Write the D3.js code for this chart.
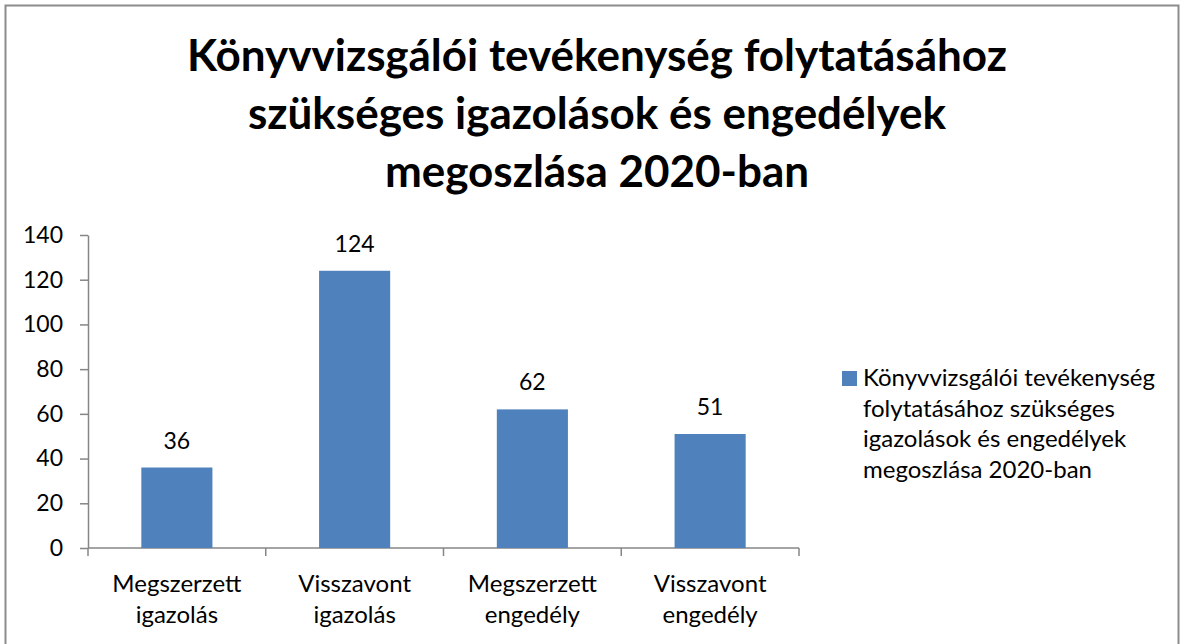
<!DOCTYPE html>
<html>
<head>
<meta charset="utf-8">
<script src="https://cdn.jsdelivr.net/npm/d3@7"></script>
<style>
  body { margin: 0; background: #fff; }
  text { font-family: Lato, "Open Sans", sans-serif; fill: #000; }
</style>
</head>
<body>
<div id="container"></div>
<script>
/* CONSTANTS AND GLOBALS */
const width = 1184,
  height = 644,
  margin = { top: 235, bottom: 96, left: 88, right: 385 }

/* DATA */
const categories = [
  ["Megszerzett", "igazolás"],
  ["Visszavont", "igazolás"],
  ["Megszerzett", "engedély"],
  ["Visszavont", "engedély"]
]
const values = [36, 124, 62, 51]
const yTicks = [0, 20, 40, 60, 80, 100, 120, 140]
const titleLines = [
  "Könyvvizsgálói tevékenység folytatásához",
  "szükséges igazolások és engedélyek",
  "megoszlása 2020-ban"
]
const seriesName = [
  "Könyvvizsgálói tevékenység",
  "folytatásához szükséges",
  "igazolások és engedélyek",
  "megoszlása 2020-ban"
]

const svg = d3.select("#container")
  .append("svg")
  .attr("width", width)
  .attr("height", height)

// chart border
svg.append("rect")
  .attr("x", 5.5)
  .attr("y", 5.5)
  .attr("width", width - 11)
  .attr("height", height + 20)
  .attr("fill", "none")
  .attr("stroke", "#8c8c8c")
  .attr("stroke-width", 2)

const keys = categories.map((d, i) => i)

const xScale = d3.scaleBand()
  .domain(keys)
  .range([margin.left, width - margin.right])
  .paddingInner(0.6)
  .paddingOuter(0.3)

const catScale = d3.scaleBand()
  .domain(keys)
  .range([margin.left, width - margin.right])

const yScale = d3.scaleLinear()
  .domain([0, 140])
  .range([height - margin.bottom, margin.top])

// y axis
const yAxis = d3.axisLeft(yScale)
  .tickValues(yTicks)
  .tickSize(8)
  .tickSizeOuter(0)
  .tickPadding(17)
const yG = svg.append("g")
  .attr("class", "y-axis")
  .attr("transform", `translate(${margin.left},0)`)
  .call(yAxis)
yG.selectAll("path, line").attr("stroke", "#868686").attr("stroke-width", 1.5)
yG.selectAll("text")
  .attr("font-size", 23)
  .attr("fill", "#000")
  .style("font-family", "Lato, sans-serif")

// x axis line + ticks at category boundaries
const xBase = yScale(0)
svg.append("line")
  .attr("x1", margin.left)
  .attr("x2", width - margin.right)
  .attr("y1", xBase)
  .attr("y2", xBase)
  .attr("stroke", "#868686")
  .attr("stroke-width", 1.5)

const bounds = keys.map(k => catScale(k)).concat([width - margin.right])
svg.selectAll("line.xtick")
  .data(bounds)
  .join("line")
  .attr("class", "xtick")
  .attr("x1", d => d)
  .attr("x2", d => d)
  .attr("y1", xBase)
  .attr("y2", xBase + 8)
  .attr("stroke", "#868686")
  .attr("stroke-width", 1.5)

// category labels
const catLabels = svg.selectAll("text.cat")
  .data(categories)
  .join("text")
  .attr("class", "cat")
  .attr("text-anchor", "middle")
  .attr("font-size", 24)
catLabels.selectAll("tspan")
  .data((d, i) => d.map(t => ({ t, i })))
  .join("tspan")
  .attr("x", d => catScale(d.i) + catScale.bandwidth() / 2)
  .attr("y", (d, j) => 592 + j * 31)
  .text(d => d.t)

// bars
svg.selectAll("rect.bar")
  .data(values)
  .join("rect")
  .attr("class", "bar")
  .attr("x", (d, i) => xScale(i))
  .attr("width", xScale.bandwidth())
  .attr("y", d => yScale(d))
  .attr("height", d => yScale(0) - yScale(d))
  .attr("fill", "#4f81bd")

// data labels
svg.selectAll("text.val")
  .data(values)
  .join("text")
  .attr("class", "val")
  .attr("x", (d, i) => xScale(i) + xScale.bandwidth() / 2)
  .attr("y", d => yScale(d) - 19)
  .attr("text-anchor", "middle")
  .attr("font-size", 23)
  .text(d => d)

// title
svg.append("text")
  .attr("class", "title")
  .attr("text-anchor", "middle")
  .attr("font-size", 44)
  .attr("font-weight", "bold")
  .selectAll("tspan")
  .data(titleLines)
  .join("tspan")
  .attr("x", 597)
  .attr("y", (d, i) => 71 + i * 58)
  .text(d => d)

// legend
svg.append("rect")
  .attr("x", 842)
  .attr("y", 371)
  .attr("width", 15)
  .attr("height", 15)
  .attr("fill", "#4f81bd")

svg.append("text")
  .attr("class", "legend")
  .attr("font-size", 24)
  .selectAll("tspan")
  .data(seriesName)
  .join("tspan")
  .attr("x", 863)
  .attr("y", (d, i) => 386 + i * 30.5)
  .text(d => d)
</script>
</body>
</html>
